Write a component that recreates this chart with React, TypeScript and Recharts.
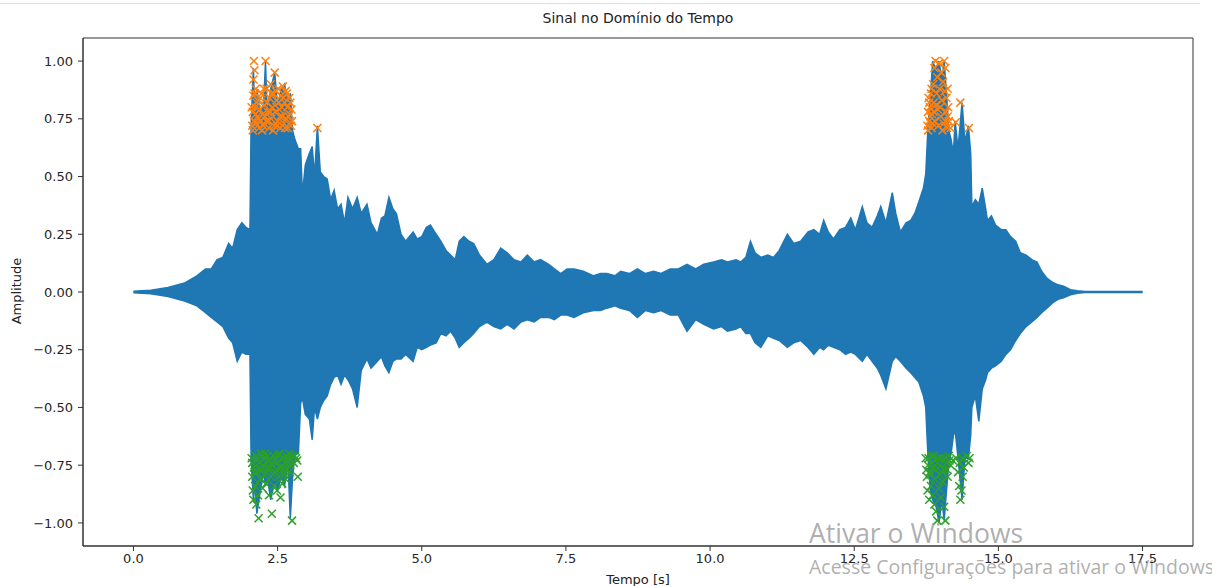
import { ComposedChart, Area, Scatter, XAxis, YAxis, ReferenceArea } from 'recharts'

// envelope of the waveform (time in s)
const times = [
  0.0, 0.3, 0.6, 0.9, 1.1, 1.25, 1.35, 1.45, 1.55, 1.65, 1.72, 1.8, 1.88, 1.95, 2.02,
  2.04, 2.08, 2.1, 2.14, 2.2, 2.26, 2.29, 2.32, 2.38, 2.45, 2.5, 2.56, 2.62, 2.68, 2.72,
  2.76, 2.8, 2.86, 2.9, 2.93, 2.98, 3.05, 3.1, 3.14, 3.19, 3.24, 3.3, 3.36, 3.42, 3.48,
  3.54, 3.6, 3.66, 3.72, 3.8, 3.88, 3.95, 4.05, 4.12, 4.23, 4.3, 4.36, 4.43, 4.5, 4.56,
  4.64, 4.72, 4.85, 4.92, 5.0, 5.08, 5.15, 5.25, 5.33, 5.42, 5.5, 5.58, 5.65, 5.73, 5.82,
  5.9, 6.0, 6.13, 6.25, 6.37, 6.48, 6.6, 6.72, 6.83, 6.95, 7.06, 7.2, 7.3, 7.41, 7.52,
  7.64, 7.8, 7.98, 8.1, 8.21, 8.35, 8.45, 8.6, 8.74, 8.88, 9.02, 9.15, 9.31, 9.45, 9.6,
  9.75, 9.89, 10.06, 10.2, 10.3, 10.45, 10.53, 10.62, 10.7, 10.78, 10.88, 11.0, 11.1, 11.2, 11.34,
  11.45, 11.57, 11.7, 11.8, 11.9, 11.97, 12.05, 12.14, 12.25, 12.35, 12.44, 12.52, 12.64, 12.72, 12.81,
  12.9, 12.96, 13.05, 13.16, 13.22, 13.3, 13.4, 13.48, 13.55, 13.62, 13.7, 13.74, 13.78, 13.82, 13.86,
  13.92, 13.97, 14.02, 14.06, 14.1, 14.14, 14.18, 14.22, 14.25, 14.3, 14.37, 14.42, 14.48, 14.52, 14.54,
  14.6, 14.66, 14.72, 14.78, 14.81, 14.88, 14.95, 15.05, 15.13, 15.21, 15.3, 15.38, 15.48, 15.58, 15.67,
  15.75, 15.84, 15.95, 16.05, 16.13, 16.25, 16.37, 16.5, 17.0, 17.5,
]

const upperEnv = [
  0.003, 0.008, 0.02, 0.04, 0.07, 0.1, 0.1, 0.14, 0.15, 0.21, 0.19, 0.27, 0.3, 0.28, 0.27,
  0.72, 0.97, 0.8, 0.88, 0.76, 0.82, 1.0, 0.76, 0.88, 0.95, 0.8, 0.88, 0.9, 0.82, 0.86,
  0.7, 0.66, 0.62, 0.62, 0.42, 0.55, 0.6, 0.63, 0.5, 0.72, 0.52, 0.5, 0.49, 0.4, 0.44,
  0.36, 0.38, 0.3, 0.41, 0.36, 0.41, 0.34, 0.38, 0.3, 0.25, 0.32, 0.33, 0.41, 0.36, 0.34,
  0.25, 0.22, 0.26, 0.23, 0.24, 0.28, 0.29, 0.25, 0.22, 0.18, 0.16, 0.14, 0.22, 0.24, 0.22,
  0.21, 0.16, 0.12, 0.14, 0.19, 0.17, 0.14, 0.13, 0.16, 0.13, 0.14, 0.12, 0.1, 0.08, 0.1,
  0.1, 0.09, 0.07, 0.08, 0.08, 0.07, 0.09, 0.08, 0.1, 0.08, 0.09, 0.08, 0.1, 0.1, 0.12,
  0.1, 0.12, 0.13, 0.14, 0.13, 0.14, 0.13, 0.15, 0.22, 0.17, 0.15, 0.16, 0.15, 0.18, 0.25,
  0.21, 0.22, 0.26, 0.27, 0.25, 0.31, 0.26, 0.23, 0.27, 0.28, 0.32, 0.27, 0.37, 0.3, 0.28,
  0.33, 0.37, 0.3, 0.43, 0.34, 0.26, 0.3, 0.31, 0.34, 0.39, 0.45, 0.51, 0.72, 0.84, 1.0,
  0.96, 1.0, 0.92, 1.0, 0.86, 0.7, 0.66, 0.6, 0.74, 0.62, 0.82, 0.65, 0.72, 0.6, 0.37,
  0.4, 0.38, 0.45, 0.36, 0.31, 0.33, 0.29, 0.27, 0.27, 0.24, 0.22, 0.17, 0.16, 0.14, 0.13,
  0.09, 0.06, 0.04, 0.03, 0.025, 0.01, 0.005, 0.002, 0.002, 0.002,
]

const lowerEnv = [
  -0.003, -0.008, -0.02, -0.04, -0.06, -0.09, -0.11, -0.13, -0.15, -0.2, -0.22, -0.3, -0.26, -0.27, -0.27,
  -0.72, -0.9, -0.82, -0.96, -0.86, -0.78, -0.84, -0.8, -0.9, -0.82, -0.86, -0.8, -0.84, -0.74, -0.98,
  -0.8, -0.7, -0.7, -0.48, -0.46, -0.53, -0.55, -0.64, -0.5, -0.55, -0.5, -0.47, -0.45, -0.4, -0.37,
  -0.36, -0.4, -0.36, -0.38, -0.42, -0.5, -0.34, -0.29, -0.33, -0.3, -0.28, -0.32, -0.35, -0.3, -0.29,
  -0.29, -0.27, -0.3, -0.24, -0.25, -0.24, -0.23, -0.22, -0.18, -0.19, -0.17, -0.2, -0.24, -0.22, -0.2,
  -0.18, -0.15, -0.13, -0.15, -0.16, -0.14, -0.16, -0.13, -0.12, -0.13, -0.11, -0.11, -0.12, -0.1, -0.1,
  -0.11, -0.09, -0.08, -0.08, -0.07, -0.06, -0.07, -0.08, -0.11, -0.08, -0.09, -0.08, -0.1, -0.1, -0.17,
  -0.12, -0.14, -0.16, -0.15, -0.17, -0.16, -0.15, -0.18, -0.18, -0.22, -0.24, -0.19, -0.2, -0.21, -0.24,
  -0.22, -0.21, -0.24, -0.27, -0.24, -0.25, -0.23, -0.24, -0.25, -0.27, -0.26, -0.27, -0.3, -0.27, -0.3,
  -0.33, -0.36, -0.42, -0.3, -0.28, -0.3, -0.33, -0.35, -0.37, -0.39, -0.45, -0.5, -0.72, -0.86, -0.9,
  -0.93, -1.0, -0.9, -0.99, -0.86, -0.74, -0.7, -0.62, -0.6, -0.72, -0.9, -0.72, -0.72, -0.62, -0.5,
  -0.45, -0.56, -0.42, -0.38, -0.35, -0.33, -0.32, -0.3, -0.27, -0.25, -0.21, -0.18, -0.15, -0.13, -0.11,
  -0.09, -0.07, -0.045, -0.03, -0.025, -0.012, -0.005, -0.002, -0.002, -0.002,
]

// peaks above +0.7 (orange) and below -0.7 (green)
const maxPeakT = [
  2.06, 2.07, 2.08, 2.08, 2.09, 2.1, 2.09, 2.11, 2.12, 2.13, 2.15, 2.16, 2.18, 2.19, 2.21, 2.22, 2.24,
  2.25, 2.27, 2.29, 2.3, 2.31, 2.33, 2.35, 2.36, 2.38, 2.39, 2.41, 2.43, 2.44, 2.45, 2.46, 2.48, 2.5,
  2.51, 2.53, 2.55, 2.56, 2.58, 2.59, 2.61, 2.62, 2.64, 2.65, 2.67, 2.68, 2.7, 2.71, 2.73, 2.74, 3.19,
  2.05, 2.07, 2.1, 2.12, 2.14, 2.17, 2.2, 2.23, 2.26, 2.28, 2.32, 2.34, 2.37, 2.4, 2.42, 2.47, 2.49,
  2.52, 2.54, 2.57, 2.6, 2.63, 2.66, 2.69, 2.72, 2.75,
  13.77, 13.78, 13.79, 13.8, 13.81, 13.83, 13.84, 13.85, 13.87, 13.88, 13.89, 13.9, 13.91, 13.93, 13.94,
  13.95, 13.96, 13.97, 13.98, 14.0, 14.01, 14.02, 14.04, 14.05, 14.06, 14.07, 14.08, 14.09, 14.1, 14.11,
  14.12, 14.13, 14.17, 14.26, 14.34, 14.49,
  13.78, 13.8, 13.82, 13.84, 13.86, 13.88, 13.92, 13.99, 14.03, 14.08, 14.12, 14.14,
]
const maxPeakA = [
  0.72, 0.78, 0.85, 0.92, 1.0, 0.96, 0.74, 0.8, 0.88, 0.73, 0.76, 0.83, 0.71, 0.79, 0.74, 0.86, 0.77,
  0.72, 0.81, 1.0, 0.74, 0.88, 0.78, 0.71, 0.84, 0.9, 0.75, 0.8, 0.86, 0.72, 0.95, 0.78, 0.83, 0.74,
  0.88, 0.79, 0.71, 0.85, 0.76, 0.89, 0.73, 0.82, 0.87, 0.75, 0.8, 0.71, 0.84, 0.77, 0.72, 0.79, 0.71,
  0.8, 0.7, 0.86, 0.77, 0.82, 0.75, 0.84, 0.7, 0.88, 0.76, 0.82, 0.74, 0.78, 0.86, 0.7, 0.87, 0.72,
  0.82, 0.76, 0.8, 0.84, 0.71, 0.86, 0.76, 0.82, 0.74,
  0.72, 0.78, 0.84, 0.74, 0.8, 0.86, 0.71, 0.77, 0.9, 0.82, 0.97, 0.74, 1.0, 0.86, 0.93,
  0.79, 0.72, 0.99, 0.88, 0.76, 0.95, 0.83, 0.91, 0.73, 1.0, 0.87, 0.97, 0.78, 0.84, 0.71,
  0.76, 0.8, 0.71, 0.735, 0.82, 0.71,
  0.7, 0.82, 0.76, 0.88, 0.73, 0.78, 0.81, 0.8, 0.7, 0.74, 0.88, 0.74,
]

const minPeakT = [
  2.05, 2.06, 2.07, 2.08, 2.09, 2.11, 2.12, 2.13, 2.14, 2.16, 2.17, 2.18, 2.2, 2.21, 2.23, 2.24, 2.26,
  2.27, 2.29, 2.3, 2.32, 2.33, 2.35, 2.36, 2.38, 2.4, 2.41, 2.43, 2.44, 2.46, 2.47, 2.49, 2.5, 2.52,
  2.53, 2.55, 2.56, 2.58, 2.6, 2.61, 2.63, 2.65, 2.66, 2.68, 2.7, 2.72, 2.75, 2.8, 2.84, 2.85,
  2.06, 2.1, 2.15, 2.19, 2.22, 2.25, 2.28, 2.31, 2.34, 2.37, 2.42, 2.45, 2.48, 2.51, 2.54, 2.57, 2.62,
  2.64, 2.67, 2.71, 2.74, 2.78, 2.82,
  13.74, 13.76, 13.77, 13.78, 13.8, 13.81, 13.83, 13.84, 13.86, 13.87, 13.89, 13.9, 13.92, 13.94, 13.95,
  13.97, 13.98, 14.0, 14.01, 14.03, 14.05, 14.06, 14.08, 14.1, 14.12, 14.14, 14.17, 14.21, 14.27, 14.3,
  14.32, 14.34, 14.36, 14.38, 14.45, 14.48, 14.5,
  13.75, 13.79, 13.82, 13.85, 13.88, 13.91, 13.96, 13.99, 14.02, 14.07, 14.11, 14.15, 14.33, 14.37, 14.4,
]
const minPeakA = [
  -0.72, -0.8, -0.86, -0.9, -0.76, -0.84, -0.71, -0.92, -0.78, -0.88, -0.98, -0.74, -0.81, -0.7, -0.77, -0.85, -0.72,
  -0.79, -0.74, -0.83, -0.71, -0.76, -0.88, -0.73, -0.8, -0.96, -0.75, -0.71, -0.84, -0.78, -0.72, -0.86, -0.74, -0.8,
  -0.7, -0.89, -0.76, -0.83, -0.72, -0.79, -0.74, -0.71, -0.77, -0.73, -0.7, -0.75, -0.99, -0.71, -0.73, -0.8,
  -0.74, -0.78, -0.73, -0.77, -0.81, -0.75, -0.7, -0.78, -0.73, -0.76, -0.79, -0.73, -0.77, -0.71, -0.76, -0.72, -0.76,
  -0.81, -0.72, -0.78, -0.71, -0.74, -0.72,
  -0.72, -0.8, -0.86, -0.75, -0.9, -0.78, -0.84, -0.71, -0.88, -0.76, -0.92, -0.81, -0.95, -0.99, -0.74,
  -0.85, -0.79, -0.89, -0.72, -0.82, -0.77, -0.93, -0.99, -0.74, -0.8, -0.71, -0.75, -0.73, -0.72, -0.78,
  -0.84, -0.9, -0.86, -0.8, -0.71, -0.74, -0.72,
  -0.77, -0.72, -0.79, -0.74, -0.71, -0.77, -0.72, -0.75, -0.78, -0.72, -0.77, -0.73, -0.74, -0.72, -0.76,
]

const xTicks = [0, 2.5, 5, 7.5, 10, 12.5, 15, 17.5]
const yTicks = [-1, -0.75, -0.5, -0.25, 0, 0.25, 0.5, 0.75, 1]

const signal = times.map((t, i) => ({ t, range: [lowerEnv[i], upperEnv[i]] }))
const maxPeaks = maxPeakT.map((t, i) => ({ t, a: maxPeakA[i] }))
const minPeaks = minPeakT.map((t, i) => ({ t, a: minPeakA[i] }))

const FONT = '"DejaVu Sans", sans-serif'
const tickStyle = { fontSize: 13, fill: '#262626', fontFamily: FONT }

const XMark = (color: string) => (props: any) => {
  const { cx, cy } = props
  if (cx == null || cy == null) return <g />
  const s = 4
  return (
    <g stroke={color} strokeWidth={1.5}>
      <line x1={cx - s} y1={cy - s} x2={cx + s} y2={cy + s} />
      <line x1={cx - s} y1={cy + s} x2={cx + s} y2={cy - s} />
    </g>
  )
}

const fmtY = (v: number) => v.toFixed(2).replace('-', '\u2212')

export default function App() {
  return (
    <div style={{ position: 'absolute', left: 0, top: 0, width: 1212, height: 586, background: '#fff', overflow: 'hidden' }}>
      <div style={{ position: 'absolute', left: 0, top: 3, width: 1200, height: 1, background: '#f4d6da' }} />
      <ComposedChart
        width={1212}
        height={586}
        data={signal}
        margin={{ top: 38, right: 19, bottom: 10, left: 23 }}
      >
        <XAxis
          dataKey="t"
          type="number"
          domain={[-0.875, 18.375]}
          ticks={xTicks}
          tickFormatter={(v: number) => v.toFixed(1)}
          allowDataOverflow
          height={30}
          tick={tickStyle}
          tickSize={5}
          tickMargin={3}
          axisLine={{ stroke: '#333' }}
          tickLine={{ stroke: '#333' }}
        />
        <YAxis
          type="number"
          domain={[-1.1, 1.1]}
          ticks={yTicks}
          tickFormatter={fmtY}
          allowDataOverflow
          width={60}
          tick={tickStyle}
          tickSize={5}
          tickMargin={5}
          axisLine={{ stroke: '#333' }}
          tickLine={{ stroke: '#333' }}
        />
        <ReferenceArea x1={-0.875} x2={18.375} y1={-1.1} y2={1.1} fill="none" stroke="#333" strokeWidth={1} />
        <Area
          type="linear"
          dataKey="range"
          stroke="#1f77b4"
          strokeWidth={1.5}
          fill="#1f77b4"
          fillOpacity={1}
          dot={false}
          activeDot={false}
          isAnimationActive={false}
        />
        <Scatter data={maxPeaks} dataKey="a" shape={XMark('#ff7f0e')} isAnimationActive={false} />
        <Scatter data={minPeaks} dataKey="a" shape={XMark('#2ca02c')} isAnimationActive={false} />
      </ComposedChart>
      <div style={{ position: 'absolute', left: 83, width: 1110, top: 10, textAlign: 'center', fontFamily: FONT, fontSize: 14, color: '#222' }}>
        Sinal no Domínio do Tempo
      </div>
      <div
        style={{
          position: 'absolute', left: 16, top: 291, transform: 'translate(-50%, -50%) rotate(-90deg)',
          fontFamily: FONT, fontSize: 13, color: '#222', whiteSpace: 'nowrap',
        }}
      >
        Amplitude
      </div>
      <div style={{ position: 'absolute', left: 83, width: 1110, top: 572, textAlign: 'center', fontFamily: FONT, fontSize: 13, color: '#222' }}>
        Tempo [s]
      </div>
      <div style={{ position: 'absolute', left: 809, top: 515, fontFamily: '"Open Sans", sans-serif', fontSize: 26.5, color: 'rgba(140,140,140,0.7)', whiteSpace: 'nowrap' }}>
        Ativar o Windows
      </div>
      <div style={{ position: 'absolute', left: 809, top: 553, fontFamily: '"Open Sans", sans-serif', fontSize: 19.5, color: 'rgba(140,140,140,0.7)', whiteSpace: 'nowrap' }}>
        Acesse Configurações para ativar o Windows
      </div>
    </div>
  )
}
